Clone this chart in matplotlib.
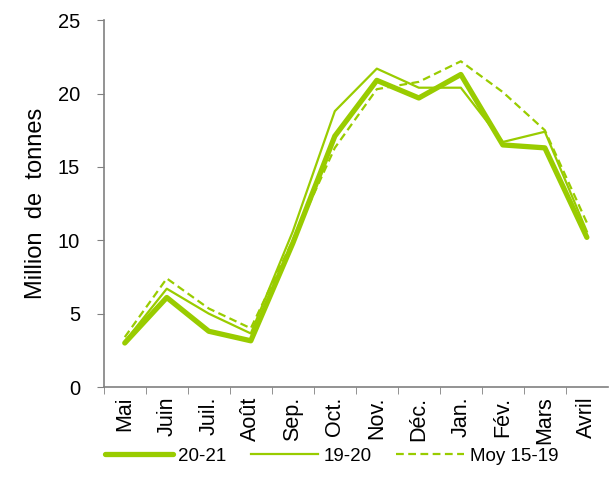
import matplotlib

matplotlib.use("Agg")
import matplotlib.pyplot as plt
import numpy as np

plt.rcParams["font.family"] = ["Liberation Sans", "DejaVu Sans"]

MONTHS = ["Mai", "Juin", "Juil.", "Août", "Sep.", "Oct.", "Nov.", "Déc.", "Jan.", "Fév.", "Mars", "Avril"]
S_2021 = [3.0, 6.1, 3.8, 3.15, 9.8, 17.1, 20.9, 19.7, 21.3, 16.5, 16.3, 10.2]
S_1920 = [3.1, 6.7, 5.0, 3.65, 10.6, 18.8, 21.7, 20.4, 20.4, 16.7, 17.4, 10.6]
S_MOY = [3.4, 7.4, 5.35, 4.0, 10.0, 16.3, 20.3, 20.8, 22.2, 20.1, 17.5, 11.2]
LABELS = ["20-21", "19-20", "Moy 15-19"]

GREEN = "#99cc00"
GRAY = "#808080"

fig = plt.figure(figsize=(6.14, 4.93), dpi=100)
ax = fig.add_axes([0.169, 0.215, 0.821, 0.744])

x = np.arange(len(MONTHS))
ax.plot(x, S_2021, color=GREEN, lw=3.8, solid_capstyle="round", label=LABELS[0], zorder=3)
ax.plot(x, S_1920, color=GREEN, lw=1.6, label=LABELS[1], zorder=2)
ax.plot(x, S_MOY, color=GREEN, lw=1.6, ls=(0, (3.5, 2)), label=LABELS[2], zorder=2)

ax.set_xlim(-0.5, 11.5)
ax.set_ylim(0, 25)
ax.set_yticks([0, 5, 10, 15, 20, 25])
ax.set_xticks(x)
ax.set_xticklabels(MONTHS, rotation=90, fontsize=15.5)
ax.set_xticks(np.arange(-0.5, 11.5, 1), minor=True)
ax.tick_params(axis="x", which="major", length=0, pad=7)
ax.tick_params(axis="x", which="minor", length=5, color=GRAY, direction="out")
ax.tick_params(axis="y", length=5, color=GRAY, pad=12, labelsize=14.5)

for s in ["top", "right"]:
    ax.spines[s].set_visible(False)
for s in ["left", "bottom"]:
    ax.spines[s].set_color(GRAY)
    ax.spines[s].set_linewidth(1.2)

ax.set_ylabel("Million  de  tonnes", fontsize=17, labelpad=8)

fig.legend(loc="center", bbox_to_anchor=(0.54, 0.075), ncol=3, frameon=False,
           fontsize=13.5, handlelength=3.6, columnspacing=1.3, handletextpad=0.3)

fig.savefig("out.png", dpi=100)
